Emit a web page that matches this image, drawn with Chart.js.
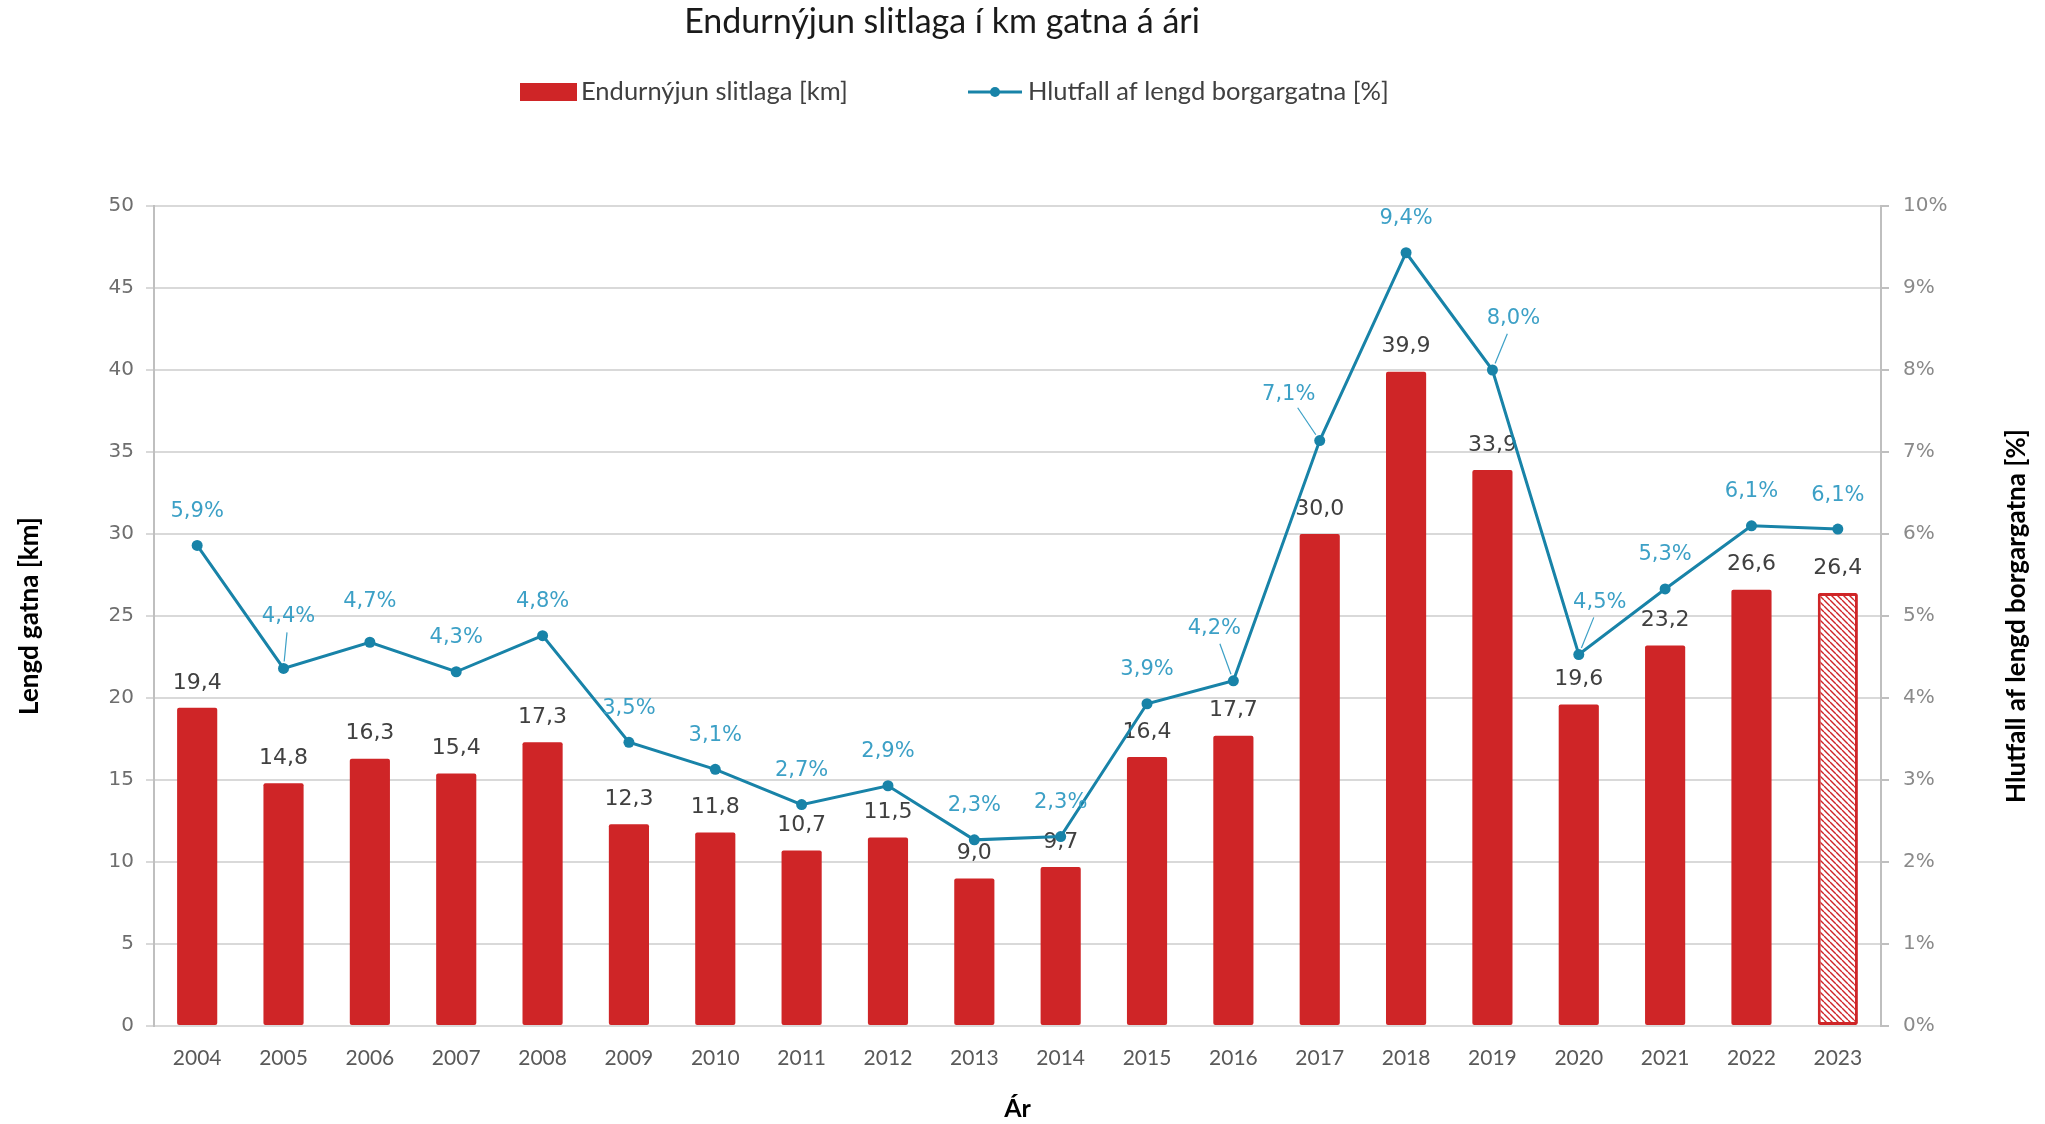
<!DOCTYPE html>
<html lang="is">
<head>
<meta charset="utf-8">
<title>Endurnýjun slitlaga í km gatna á ári</title>
<script src="https://cdn.jsdelivr.net/npm/chart.js@4.4.1/dist/chart.umd.min.js"></script>
<style>
  html, body { margin: 0; padding: 0; background: #fff; }
  #wrap { width: 2045px; height: 1124px; }
</style>
</head>
<body>
<div id="wrap"><canvas id="chartSlitlag" width="2045" height="1124"></canvas></div>
<script>
// Gögn (lesin af myndinni)
const ar = ["2004", "2005", "2006", "2007", "2008", "2009", "2010", "2011", "2012", "2013",
            "2014", "2015", "2016", "2017", "2018", "2019", "2020", "2021", "2022", "2023"];
const endurnyjunKm = [19.4, 14.8, 16.3, 15.4, 17.3, 12.3, 11.8, 10.7, 11.5, 9.0,
                      9.7, 16.4, 17.7, 30.0, 39.9, 33.9, 19.6, 23.2, 26.6, 26.4];
const hlutfallPct = [5.86, 4.36, 4.68, 4.32, 4.76, 3.46, 3.13, 2.70, 2.93, 2.27,
                     2.31, 3.93, 4.21, 7.14, 9.43, 8.00, 4.53, 5.33, 6.10, 6.06];
const kmTicks = [0, 5, 10, 15, 20, 25, 30, 35, 40, 45, 50];
const pctTicks = [0, 1, 2, 3, 4, 5, 6, 7, 8, 9, 10];
const aaetlunAr = ["2023"]; // strikuð súla

const TITILL = "Endurnýjun slitlaga í km gatna á ári";
const NAFN_SULUR = "Endurnýjun slitlaga [km]";
const NAFN_LINA = "Hlutfall af lengd borgargatna [%]";

const RAUTT = "#cf2527";
const LINA = "#1883a8";
const LINA_TEXTI = "#3ca0c6";
const GRATT = "#d9d9d9";

// Færslur á prósentumerkjum sem eru með leiðarlínu (í px)
const merkjaFaersla = { "2005": [5, -52], "2006": [0, -41], "2016": [-19, -52], "2017": [-31, -46],
                        "2019": [21, -51], "2020": [21, -52] };

function komma(v, d) {
    return v.toFixed(d).replace(".", ",");
}

function bua_til_strik() {
    const c = document.createElement("canvas");
    c.width = 6; c.height = 6;
    const g = c.getContext("2d");
    g.fillStyle = "#fff";
    g.fillRect(0, 0, 6, 6);
    g.strokeStyle = RAUTT;
    g.lineWidth = 1.4;
    g.beginPath();
    for (const k of [-6, 0, 6]) {
        g.moveTo(k, 0);
        g.lineTo(k + 6, 6);
    }
    g.stroke();
    return g.createPattern(c, "repeat");
}

const strikMynstur = bua_til_strik();

// Titill, skýringar og hægri ásheiti
const hausPlugin = {
    id: "haus",
    afterDraw(chart) {
        const ctx = chart.ctx;
        ctx.save();
        ctx.textBaseline = "middle";

        ctx.fillStyle = "#1a1a1a";
        ctx.font = "34px Lato";
        ctx.textAlign = "center";
        ctx.fillText(TITILL, 942, 22);

        ctx.font = "25.5px Lato";
        ctx.textAlign = "left";
        ctx.fillStyle = RAUTT;
        ctx.fillRect(520, 83, 57, 18);
        ctx.fillStyle = "#404040";
        ctx.fillText(NAFN_SULUR, 581, 92);

        ctx.strokeStyle = LINA;
        ctx.lineWidth = 3;
        ctx.beginPath();
        ctx.moveTo(968, 92);
        ctx.lineTo(1022, 92);
        ctx.stroke();
        ctx.fillStyle = LINA;
        ctx.beginPath();
        ctx.arc(995, 92, 5, 0, Math.PI * 2);
        ctx.fill();
        ctx.fillStyle = "#404040";
        ctx.fillText(NAFN_LINA, 1028, 92);

        ctx.translate(2017, 616);
        ctx.rotate(-Math.PI / 2);
        ctx.textAlign = "center";
        ctx.fillStyle = "#000";
        ctx.font = "bold 26px Lato";
        ctx.fillText(NAFN_LINA, 0, 0);
        ctx.restore();
    }
};

// Gildismerki á súlum og línu
const merkiPlugin = {
    id: "merki",
    afterDatasetDraw(chart, args) {
        const ctx = chart.ctx;
        const ds = chart.data.datasets[args.index];
        const meta = args.meta;
        ctx.save();
        ctx.textAlign = "center";
        ctx.textBaseline = "middle";
        if (ds.type === "bar") {
            ctx.font = "22px 'DejaVu Sans'";
            ctx.fillStyle = "#404040";
            meta.data.forEach((el, i) => {
                ctx.fillText(komma(ds.data[i], 1), el.x, el.y - 25);
            });
        } else {
            ctx.font = "21px 'DejaVu Sans'";
            meta.data.forEach((el, i) => {
                const f = merkjaFaersla[ar[i]] || [0, -34];
                const tx = el.x + f[0];
                const ty = el.y + f[1];
                if (merkjaFaersla[ar[i]] && Math.abs(f[1]) > 45) {
                    // leiðarlína frá punkti að merki
                    const dx = tx - el.x, dy = ty - el.y;
                    const len = Math.hypot(dx, dy);
                    ctx.strokeStyle = LINA_TEXTI;
                    ctx.lineWidth = 1.2;
                    ctx.beginPath();
                    ctx.moveTo(el.x + dx / len * 7, el.y + dy / len * 7);
                    ctx.lineTo(tx - dx / len * 16, ty - dy / len * 16);
                    ctx.stroke();
                }
                ctx.fillStyle = LINA_TEXTI;
                ctx.fillText(komma(ds.data[i], 1) + "%", tx, ty);
            });
        }
        ctx.restore();
    }
};

const ctx = document.getElementById("chartSlitlag").getContext("2d");
const chartSlitlag = new Chart(ctx, {
    data: {
        labels: ar,
        datasets: [
            {
                type: "line",
                label: NAFN_LINA,
                data: hlutfallPct,
                yAxisID: "y1",
                order: 0,
                borderColor: LINA,
                backgroundColor: LINA,
                borderWidth: 3,
                pointRadius: 5.5,
                pointBackgroundColor: LINA,
                pointBorderWidth: 0,
                tension: 0
            },
            {
                type: "bar",
                label: NAFN_SULUR,
                data: endurnyjunKm,
                yAxisID: "y",
                order: 1,
                backgroundColor: ar.map(a => aaetlunAr.includes(a) ? strikMynstur : RAUTT),
                borderColor: RAUTT,
                borderWidth: ar.map(a => aaetlunAr.includes(a) ? 3 : 0),
                borderRadius: 2,
                borderSkipped: false,
                barPercentage: 0.465,
                categoryPercentage: 1
            }
        ]
    },
    options: {
        responsive: false,
        animation: false,
        devicePixelRatio: 1,
        layout: { padding: { top: 206, left: 0, right: 0, bottom: 0 } },
        plugins: {
            legend: { display: false },
            title: { display: false },
            tooltip: { enabled: false }
        },
        scales: {
            x: {
                grid: { display: false, drawTicks: false },
                border: { display: true, color: GRATT, width: 2 },
                ticks: { color: "#595959", font: { family: "Lato", size: 21 }, padding: 20, maxRotation: 0 },
                title: { display: true, text: "Ár", color: "#000", font: { family: "Lato", size: 25, weight: "bold" }, padding: 0 },
                afterFit: s => { s.height = 98; }
            },
            y: {
                position: "left",
                min: 0,
                max: 50,
                afterBuildTicks: s => { s.ticks = kmTicks.map(v => ({ value: v })); },
                grid: { color: GRATT, lineWidth: 2, tickLength: 8 },
                border: { color: "#bfbfbf", width: 2 },
                ticks: { color: "#6e6e6e", font: { family: "DejaVu Sans", size: 20 }, padding: 12 },
                title: { display: true, text: "Lengd gatna [km]", color: "#000", font: { family: "Lato", size: 26, weight: "bold" }, padding: { top: 14, bottom: 0 } },
                afterFit: s => { s.width = 154; }
            },
            y1: {
                position: "right",
                min: 0,
                max: 10,
                afterBuildTicks: s => { s.ticks = pctTicks.map(v => ({ value: v })); },
                grid: { drawOnChartArea: false, color: "#bfbfbf", lineWidth: 2, tickLength: 8 },
                border: { color: "#bfbfbf", width: 2 },
                ticks: { color: "#8a8a8a", font: { family: "DejaVu Sans", size: 20 }, padding: 14, callback: v => v + "%" },
                afterFit: s => { s.width = 164; }
            }
        }
    },
    plugins: [merkiPlugin, hausPlugin]
});
</script>
</body>
</html>
